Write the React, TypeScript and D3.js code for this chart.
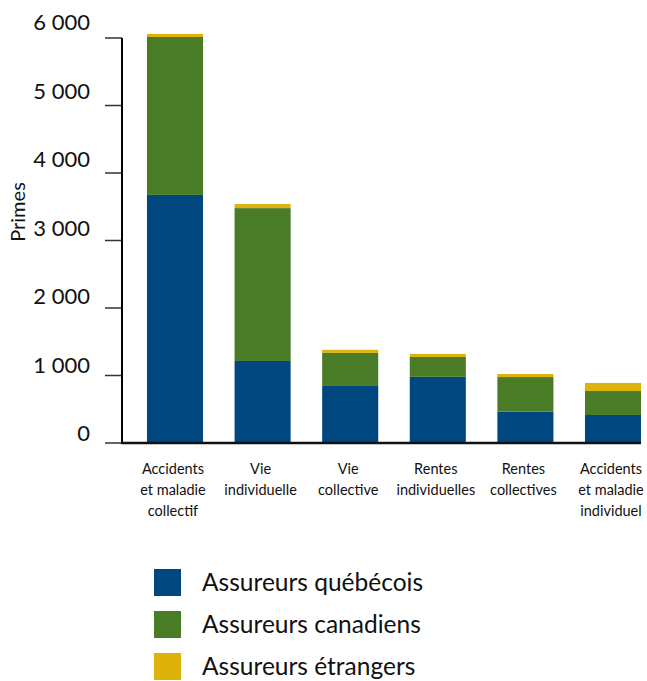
import React from "react";
import * as d3 from "d3";

const WIDTH = 647;
const HEIGHT = 681;

// bars: bottom to top
const categories = [
  ["Accidents", "et maladie", "collectif"],
  ["Vie", "individuelle"],
  ["Vie", "collective"],
  ["Rentes", "individuelles"],
  ["Rentes", "collectives"],
  ["Accidents", "et maladie", "individuel"],
];
const quebecois = [3675, 1215, 845, 980, 465, 415];
const canadiens = [2340, 2265, 490, 295, 512, 355];
const etrangers = [45, 60, 45, 45, 45, 120];

const seriesNames = ["Assureurs québécois", "Assureurs canadiens", "Assureurs étrangers"];
const seriesColors = ["#01477f", "#4a7c28", "#ddb20a"];
const yTicks = [0, 1000, 2000, 3000, 4000, 5000, 6000];

const fmt = (v: number) => (v >= 1000 ? `${Math.floor(v / 1000)} ${String(v % 1000).padStart(3, "0")}` : String(v));

const App = () => {
  const keys = categories.map((c) => c.join(" "));
  const table = keys.map((k, i) => ({
    key: k,
    q: quebecois[i],
    c: canadiens[i],
    e: etrangers[i],
  }));
  const stack = d3.stack<any>().keys(["q", "c", "e"])(table);

  const x = d3.scaleBand().domain(keys).range([122, 666]).paddingInner(0.36).paddingOuter(0.285);
  const y = d3.scaleLinear().domain([0, 6000]).range([443, 38]);
  // tick labels sit a bit above their ticks, drifting upward
  const yLabel = d3.scaleLinear().domain([0, 6000]).range([441, 30]);

  const axisEnd = (x(keys[keys.length - 1]) ?? 0) + x.bandwidth();

  return (
    <svg width={WIDTH} height={HEIGHT} style={{ position: "absolute", left: 0, top: 0 }}>
      {/* bars */}
      {stack.map((s, si) => (
        <g key={si} fill={seriesColors[si]}>
          {s.map((d, i) => (
            <rect
              key={i}
              x={x(keys[i])}
              y={y(d[1])}
              width={x.bandwidth()}
              height={y(d[0]) - y(d[1])}
            />
          ))}
        </g>
      ))}

      {/* y axis */}
      {yTicks.map((t) => (
        <g key={t}>
          <line x1={105} x2={122} y1={y(t)} y2={y(t)} stroke="#333" strokeWidth={1.5} />
          <text
            x={90}
            y={yLabel(t)}
            textAnchor="end"
            fontFamily="Lato"
            fontSize={22}
            fill="#111"
          >
            {fmt(t)}
          </text>
        </g>
      ))}
      <line x1={122} x2={122} y1={y(6000)} y2={y(0) + 1} stroke="#000" strokeWidth={2} />
      <line x1={121} x2={axisEnd} y1={y(0)} y2={y(0)} stroke="#111" strokeWidth={2.5} />

      <text
        transform={`translate(25, 212) rotate(-90)`}
        textAnchor="middle"
        fontFamily="Lato"
        fontSize={20}
        fill="#111"
      >
        Primes
      </text>

      {/* x labels */}
      {categories.map((lines, i) => {
        const cx = (x(keys[i]) ?? 0) + x.bandwidth() / 2 - 2;
        return (
          <text key={i} x={cx} y={474} textAnchor="middle" fontFamily="Lato" fontSize={14.5} fill="#111">
            {lines.map((l, j) => (
              <tspan key={j} x={cx} dy={j === 0 ? 0 : 21}>
                {l}
              </tspan>
            ))}
          </text>
        );
      })}

      {/* legend */}
      {seriesNames.map((n, i) => (
        <g key={n} transform={`translate(154, ${569 + i * 42})`}>
          <rect width={27} height={27} fill={seriesColors[i]} />
          <text x={48} y={22} fontFamily="Lato" fontSize={24.5} fill="#111">
            {n}
          </text>
        </g>
      ))}
    </svg>
  );
};

export default App;
